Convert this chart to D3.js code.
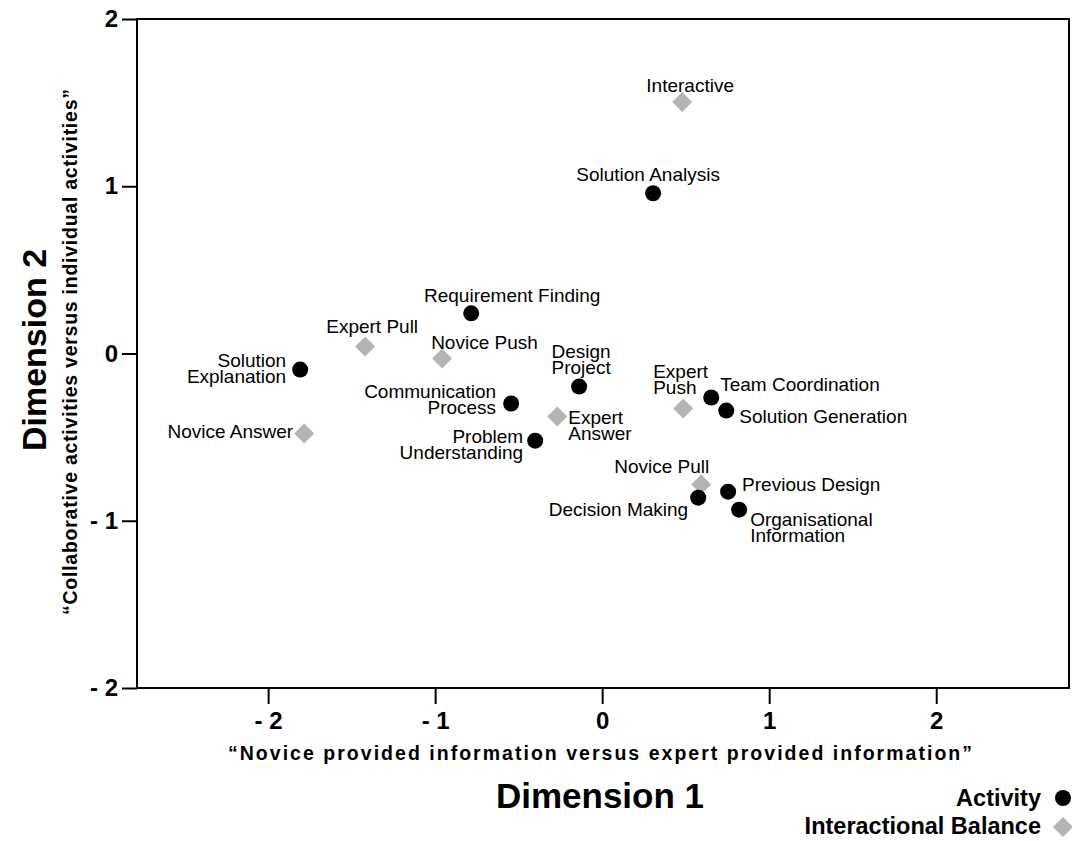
<!DOCTYPE html>
<html>
<head>
<meta charset="utf-8">
<script src="https://cdn.jsdelivr.net/npm/d3@7"></script>
<style>
body { margin: 0; background: #fff; }
</style>
</head>
<body>
<div id="chart"></div>
<script>
// data
var activityNames = ["Solution Analysis", "Requirement Finding", "Solution\nExplanation", "Communication\nProcess",
	"Design\nProject", "Problem\nUnderstanding", "Team Coordination", "Solution Generation",
	"Decision Making", "Previous Design", "Organisational\nInformation"];
var activityX = [0.305, -0.784, -1.808, -0.545, -0.138, -0.401, 0.653, 0.743, 0.575, 0.754, 0.820];
var activityY = [0.958, 0.240, -0.096, -0.299, -0.198, -0.521, -0.263, -0.341, -0.862, -0.826, -0.934];

var balanceNames = ["Interactive", "Expert Pull", "Novice Push", "Novice Answer", "Expert\nAnswer", "Expert\nPush", "Novice Pull"];
var balanceX = [0.479, -1.419, -0.958, -1.784, -0.269, 0.485, 0.593];
var balanceY = [1.503, 0.042, -0.030, -0.479, -0.377, -0.329, -0.784];

var xTicks = [-2, -1, 0, 1, 2];
var yTicks = [-2, -1, 0, 1, 2];

var xTitle = "Dimension 1",
	xSubtitle = "\u201CNovice provided information versus expert provided information\u201D",
	yTitle = "Dimension 2",
	ySubtitle = "\u201CCollaborative activities versus individual activities\u201D";
var legendNames = ["Activity", "Interactional Balance"];

// where each label sits relative to its marker: [dx, dy, anchor]
var labelPlace = {
	"Solution Analysis": [-5, -12, "middle"],
	"Requirement Finding": [41, -11, "middle"],
	"Solution\nExplanation": [-14, -3, "end"],
	"Communication\nProcess": [-15, -6, "end"],
	"Design\nProject": [2, -29, "middle"],
	"Problem\nUnderstanding": [-12, 2, "end"],
	"Team Coordination": [9, -6, "start"],
	"Solution Generation": [13, 12, "start"],
	"Decision Making": [-10, 18, "end"],
	"Previous Design": [14, -1, "start"],
	"Organisational\nInformation": [11, 16, "start"],
	"Interactive": [8, -10, "middle"],
	"Expert Pull": [7, -13, "middle"],
	"Novice Push": [-11, -10, "start"],
	"Novice Answer": [-11, 4, "end"],
	"Expert\nAnswer": [11, 7, "start"],
	"Expert\nPush": [-30, -31, "start"],
	"Novice Pull": [8, -12, "end"]
};

var W = 1072, H = 841;
var font = "'Liberation Sans', Arial, Helvetica, sans-serif";
var grey = "#b4b4b4";

var svg = d3.select("#chart").append("svg")
	.attr("width", W)
	.attr("height", H)
	.style("font-family", font);

var x = d3.scaleLinear().domain([-2.785, 2.795]).range([137, 1069]);
var y = d3.scaleLinear().domain([-2, 2]).range([688, 19]);

function tickFmt(d) {
	return d < 0 ? "- " + Math.abs(d) : "" + d;
}

// frame
svg.append("rect")
	.attr("x", x.range()[0])
	.attr("y", y.range()[1])
	.attr("width", x.range()[1] - x.range()[0])
	.attr("height", y.range()[0] - y.range()[1])
	.attr("fill", "none")
	.attr("stroke", "#000")
	.attr("stroke-width", 2);

var xAxis = svg.append("g")
	.attr("transform", "translate(0," + y.range()[0] + ")")
	.call(d3.axisBottom(x).tickValues(xTicks).tickFormat(tickFmt).tickSize(16).tickPadding(8));
var yAxis = svg.append("g")
	.attr("transform", "translate(" + x.range()[0] + ",0)")
	.call(d3.axisLeft(y).tickValues(yTicks).tickFormat(tickFmt).tickSize(15).tickPadding(4));

[xAxis, yAxis].forEach(function(a) {
	a.select(".domain").remove();
	a.selectAll("line").attr("stroke", "#000").attr("stroke-width", 2);
	a.selectAll("text")
		.attr("fill", "#000")
		.style("font-family", font)
		.style("font-size", "24px")
		.style("font-weight", "bold");
});

// axis titles
svg.append("text")
	.attr("x", 600)
	.attr("y", 760)
	.attr("text-anchor", "middle")
	.attr("textLength", 744)
	.attr("lengthAdjust", "spacing")
	.style("font-size", "19.5px")
	.style("font-weight", "bold")
	.text(xSubtitle);

svg.append("text")
	.attr("x", 600)
	.attr("y", 808)
	.attr("text-anchor", "middle")
	.style("font-size", "35px")
	.style("font-weight", "bold")
	.text(xTitle);

svg.append("text")
	.attr("transform", "translate(77,352) rotate(-90)")
	.attr("text-anchor", "middle")
	.attr("textLength", 526)
	.attr("lengthAdjust", "spacing")
	.style("font-size", "19.5px")
	.style("font-weight", "bold")
	.text(ySubtitle);

svg.append("text")
	.attr("transform", "translate(46,350) rotate(-90)")
	.attr("text-anchor", "middle")
	.style("font-size", "34px")
	.style("font-weight", "bold")
	.text(yTitle);

// points
var activities = activityNames.map(function(n, i) { return {name: n, x: activityX[i], y: activityY[i]}; });
var balances = balanceNames.map(function(n, i) { return {name: n, x: balanceX[i], y: balanceY[i]}; });

var diamond = d3.symbol().type(d3.symbolSquare).size(200);

svg.append("g").selectAll("path")
	.data(balances)
	.enter()
	.append("path")
	.attr("d", diamond)
	.attr("transform", function(d) { return "translate(" + x(d.x) + "," + y(d.y) + ") rotate(45)"; })
	.attr("fill", grey);

svg.append("g").selectAll("circle")
	.data(activities)
	.enter()
	.append("circle")
	.attr("cx", function(d) { return x(d.x); })
	.attr("cy", function(d) { return y(d.y); })
	.attr("r", 8)
	.attr("fill", "#000");

// labels
var labels = svg.append("g").selectAll("text")
	.data(activities.concat(balances))
	.enter()
	.append("text")
	.attr("text-anchor", function(d) { return labelPlace[d.name][2]; })
	.style("font-size", "19px")
	.attr("fill", "#000");

labels.each(function(d) {
	var p = labelPlace[d.name];
	var t = d3.select(this);
	d.name.split("\n").forEach(function(line, i) {
		t.append("tspan")
			.attr("x", x(d.x) + p[0])
			.attr("y", y(d.y) + p[1] + i * 16)
			.text(line);
	});
});

// legend
var legend = svg.append("g");
legend.append("text")
	.attr("x", 1041)
	.attr("y", 806)
	.attr("text-anchor", "end")
	.style("font-size", "23.5px")
	.style("font-weight", "bold")
	.text(legendNames[0]);
legend.append("circle")
	.attr("cx", 1063)
	.attr("cy", 798)
	.attr("r", 8)
	.attr("fill", "#000");
legend.append("text")
	.attr("x", 1041)
	.attr("y", 834)
	.attr("text-anchor", "end")
	.style("font-size", "23.5px")
	.style("font-weight", "bold")
	.text(legendNames[1]);
legend.append("path")
	.attr("d", diamond)
	.attr("transform", "translate(1063,827) rotate(45)")
	.attr("fill", grey);
</script>
</body>
</html>
